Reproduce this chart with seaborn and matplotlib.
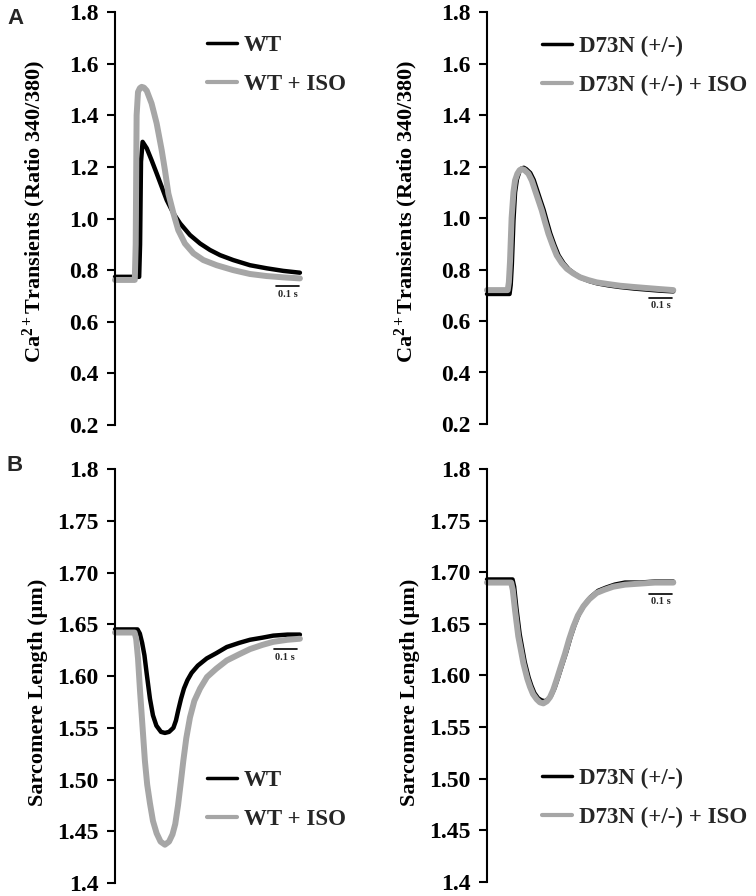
import matplotlib
matplotlib.use("Agg")
import matplotlib.pyplot as plt
import seaborn as sns
import pandas as pd

# ---------------- data (time in s) ----------------
# Panel A left: Ca2+ transients, WT
wt_ca_t = [0, 0.105, 0.109, 0.113, 0.12, 0.138, 0.159, 0.181, 0.203, 0.225, 0.254, 0.283, 0.326, 0.37, 0.413,
           0.457, 0.514, 0.587, 0.66, 0.732, 0.804]
wt_ca_v = [0.774, 0.774, 0.90, 1.22, 1.297, 1.272, 1.226, 1.175, 1.123, 1.071, 1.020, 0.981, 0.936, 0.903, 0.878,
           0.858, 0.839, 0.819, 0.807, 0.797, 0.790]
# WT + ISO
wtiso_ca_t = [0, 0.086, 0.09, 0.094, 0.1, 0.108, 0.116, 0.126, 0.138, 0.159, 0.181, 0.203, 0.217, 0.232, 0.254,
              0.275, 0.304, 0.341, 0.384, 0.442, 0.514, 0.587, 0.66, 0.732, 0.804]
wtiso_ca_v = [0.762, 0.762, 0.90, 1.40, 1.49, 1.505, 1.510, 1.507, 1.495, 1.446, 1.369, 1.265, 1.188, 1.097, 1.020,
              0.955, 0.903, 0.865, 0.839, 0.819, 0.800, 0.785, 0.777, 0.772, 0.768]

# Panel A right: D73N (+/-)
d73_ca_t = [0, 0.098, 0.103, 0.108, 0.115, 0.122, 0.13, 0.14, 0.15, 0.16, 0.17, 0.188, 0.203, 0.217, 0.231, 0.246,
            0.26, 0.275, 0.293, 0.311, 0.333, 0.355, 0.383, 0.41, 0.445, 0.48, 0.53, 0.578, 0.64, 0.694, 0.75, 0.81]
d73_ca_v = [0.705, 0.705, 0.74, 0.82, 0.99, 1.10, 1.15, 1.178, 1.192, 1.195, 1.19, 1.175, 1.148, 1.11, 1.072, 1.032,
            0.987, 0.94, 0.895, 0.855, 0.824, 0.801, 0.782, 0.767, 0.755, 0.746, 0.738, 0.732, 0.726, 0.722, 0.718, 0.715]
# D73N (+/-) + ISO
d73iso_ca_t = [0, 0.09, 0.095, 0.10, 0.107, 0.115, 0.122, 0.132, 0.142, 0.151, 0.162, 0.18, 0.195, 0.209, 0.223,
               0.238, 0.252, 0.267, 0.285, 0.303, 0.325, 0.347, 0.375, 0.404, 0.44, 0.477, 0.53, 0.578, 0.64, 0.694,
               0.75, 0.81]
d73iso_ca_v = [0.72, 0.72, 0.75, 0.83, 1.0, 1.10, 1.146, 1.172, 1.186, 1.19, 1.187, 1.172, 1.145, 1.107, 1.07,
               1.03, 0.985, 0.939, 0.895, 0.855, 0.825, 0.803, 0.785, 0.77, 0.759, 0.75, 0.743, 0.737, 0.732, 0.728,
               0.724, 0.72]

# Panel B left: sarcomere length, WT
wt_sl_t = [0, 0.098, 0.108, 0.118, 0.128, 0.138, 0.152, 0.165, 0.18, 0.20, 0.217, 0.235, 0.254, 0.265, 0.275,
           0.287, 0.30, 0.315, 0.333, 0.36, 0.399, 0.44, 0.486, 0.54, 0.587, 0.64, 0.688, 0.75, 0.804]
wt_sl_v = [1.645, 1.645, 1.641, 1.632, 1.62, 1.602, 1.578, 1.562, 1.552, 1.546, 1.545, 1.546, 1.550, 1.557, 1.567,
           1.578, 1.588, 1.596, 1.603, 1.610, 1.617, 1.622, 1.628, 1.632, 1.635, 1.637, 1.639, 1.640, 1.640]
# WT + ISO
wtiso_sl_t = [0, 0.085, 0.092, 0.10, 0.109, 0.12, 0.13, 0.14, 0.152, 0.165, 0.181, 0.198, 0.217, 0.235, 0.25,
              0.262, 0.274, 0.286, 0.297, 0.31, 0.326, 0.345, 0.37, 0.40, 0.44, 0.486, 0.54, 0.587, 0.64, 0.688,
              0.75, 0.804]
wtiso_sl_v = [1.642, 1.642, 1.636, 1.617, 1.585, 1.55, 1.518, 1.495, 1.477, 1.460, 1.448, 1.440, 1.437, 1.440, 1.447,
              1.457, 1.475, 1.497, 1.518, 1.540, 1.560, 1.576, 1.588, 1.599, 1.607, 1.615, 1.621, 1.626, 1.630, 1.633,
              1.635, 1.636]

# Panel B right: D73N (+/-)
d73_sl_t = [0, 0.111, 0.118, 0.128, 0.142, 0.164, 0.181, 0.193, 0.206, 0.222, 0.236, 0.251, 0.266, 0.28, 0.294,
            0.309, 0.326, 0.345, 0.363, 0.381, 0.401, 0.425, 0.451, 0.483, 0.516, 0.555, 0.60, 0.665, 0.73, 0.81]
d73_sl_v = [1.693, 1.693, 1.686, 1.665, 1.640, 1.613, 1.598, 1.590, 1.583, 1.578, 1.576, 1.575, 1.577, 1.581, 1.588,
            1.598, 1.610, 1.623, 1.637, 1.649, 1.660, 1.669, 1.676, 1.682, 1.685, 1.688, 1.690, 1.690, 1.691, 1.691]
# D73N (+/-) + ISO
d73iso_sl_t = [0, 0.105, 0.112, 0.122, 0.136, 0.158, 0.175, 0.187, 0.20, 0.216, 0.23, 0.245, 0.26, 0.274, 0.288,
               0.303, 0.32, 0.339, 0.357, 0.375, 0.395, 0.419, 0.445, 0.477, 0.51, 0.549, 0.60, 0.665, 0.73, 0.81]
d73iso_sl_v = [1.690, 1.690, 1.683, 1.663, 1.638, 1.612, 1.597, 1.589, 1.582, 1.577, 1.574, 1.573, 1.575, 1.579, 1.586,
               1.596, 1.608, 1.621, 1.635, 1.647, 1.658, 1.667, 1.674, 1.680, 1.683, 1.686, 1.688, 1.689, 1.690, 1.690]

ca_ticks = [0.2, 0.4, 0.6, 0.8, 1.0, 1.2, 1.4, 1.6, 1.8]
ca_ticklabels = ["0.2", "0.4", "0.6", "0.8", "1.0", "1.2", "1.4", "1.6", "1.8"]
sl_ticks = [1.4, 1.45, 1.50, 1.55, 1.60, 1.65, 1.70, 1.75, 1.8]
sl_ticklabels = ["1.4", "1.45", "1.50", "1.55", "1.60", "1.65", "1.70", "1.75", "1.8"]

ca_label = r"Ca$^{2+}$Transients (Ratio 340/380)"
sl_label = "Sarcomere Length (\u03bcm)"

# scale bars: (t_start, t_end, y)
sb_a_left = (0.70, 0.80, 0.738)
sb_a_right = (0.705, 0.805, 0.69)
sb_b_left = (0.69, 0.79, 1.626)
sb_b_right = (0.705, 0.805, 1.679)

# ---------------- style ----------------
sns.set_theme(style="white")
plt.rcParams['font.family'] = ['Liberation Serif', 'DejaVu Serif']
plt.rcParams['font.weight'] = 'bold'
plt.rcParams['mathtext.fontset'] = 'custom'
plt.rcParams['mathtext.rm'] = 'Liberation Serif:bold'
plt.rcParams['mathtext.it'] = 'Liberation Serif:bold'
plt.rcParams['mathtext.bf'] = 'Liberation Serif:bold'
plt.rcParams['mathtext.default'] = 'rm'

BLACK = "#000000"
GRAY = "#a6a6a6"
FS_TICK = 17
FS_LEG = 16.5

fig = plt.figure(figsize=(7.56, 8.96), dpi=100)
W, H = 756.0, 896.0
axw = 0.81 * 230 / W


def make_ax(x_px, top_px, bot_px):
    return fig.add_axes([x_px / W, 1 - bot_px / H, axw, (bot_px - top_px) / H])


axA1 = make_ax(115, 12, 425)
axA2 = make_ax(487, 12, 424)
axB1 = make_ax(115, 469, 883)
axB2 = make_ax(487, 469, 882)

panels = [
    (axA1, wt_ca_t, wt_ca_v, wtiso_ca_t, wtiso_ca_v, "WT", "WT + ISO", ca_ticks, ca_ticklabels, (0.2, 1.8), ca_label, sb_a_left, (207, 35), 0.516),
    (axA2, d73_ca_t, d73_ca_v, d73iso_ca_t, d73iso_ca_v, "D73N (+/-)", "D73N (+/-) + ISO", ca_ticks, ca_ticklabels, (0.2, 1.8), ca_label, sb_a_right, (542, 36), 0.516),
    (axB1, wt_sl_t, wt_sl_v, wtiso_sl_t, wtiso_sl_v, "WT", "WT + ISO", sl_ticks, sl_ticklabels, (1.4, 1.8), sl_label, sb_b_left, (207, 770), 0.46),
    (axB2, d73_sl_t, d73_sl_v, d73iso_sl_t, d73iso_sl_v, "D73N (+/-)", "D73N (+/-) + ISO", sl_ticks, sl_ticklabels, (1.4, 1.8), sl_label, sb_b_right, (542, 768), 0.46),
]

for (ax, t1, v1, t2, v2, lab1, lab2, ticks, ticklabels, ylim, ylabel, sb, legpos, ylab_y) in panels:
    df1 = pd.DataFrame({"t": t1, "v": v1})
    df2 = pd.DataFrame({"t": t2, "v": v2})
    sns.lineplot(data=df1, x="t", y="v", ax=ax, color=BLACK, lw=3.2, label=lab1,
                 clip_on=False, solid_joinstyle="round", solid_capstyle="round")
    sns.lineplot(data=df2, x="t", y="v", ax=ax, color=GRAY, lw=4.3, label=lab2,
                 clip_on=False, solid_joinstyle="round", solid_capstyle="round")
    ax.set_xlim(0, 0.81)
    ax.set_ylim(*ylim)
    ax.set_yticks(ticks)
    ax.set_yticklabels(ticklabels, fontsize=FS_TICK, fontweight="bold", family="Liberation Serif")
    ax.set_xticks([])
    ax.set_xlabel("")
    for s in ["top", "right", "bottom"]:
        ax.spines[s].set_visible(False)
    ax.spines["left"].set_linewidth(1.5)
    ax.spines["left"].set_color("black")
    ax.tick_params(axis="y", direction="out", length=6, width=1.5, pad=6, colors="black", left=True)
    ax.set_ylabel(ylabel, fontsize=16, fontweight="bold", family="Liberation Serif", color="black")
    ax.yaxis.set_label_coords(-0.362, ylab_y)
    ax.set_facecolor("none")

    # scale bar
    ax.plot([sb[0], sb[1]], [sb[2], sb[2]], color="black", lw=1.2, clip_on=False)
    ax.annotate("0.1 s", xy=((sb[0] + sb[1]) / 2, sb[2]), xytext=(0, -2.5), textcoords="offset points",
                ha="center", va="top", fontsize=7.5, fontweight="bold", family="Liberation Serif")

    leg = ax.legend(loc="upper left", bbox_to_anchor=(legpos[0] / W, 1 - legpos[1] / H),
                    bbox_transform=fig.transFigure, frameon=False, borderpad=0, borderaxespad=0,
                    handlelength=1.3, handletextpad=0.3, labelspacing=0.78,
                    prop={"family": "Liberation Serif", "weight": "bold", "size": FS_LEG})
    lines = leg.get_lines()
    lines[0].set_linewidth(2.5)
    lines[1].set_linewidth(3.0)

fig.text(7 / W, 1 - 8 / H, "A", family="Liberation Sans", fontweight="bold", fontsize=16, va="top", ha="left")
fig.text(7 / W, 1 - 455 / H, "B", family="Liberation Sans", fontweight="bold", fontsize=16, va="top", ha="left")

fig.savefig("out.png", dpi=100, facecolor="white")
